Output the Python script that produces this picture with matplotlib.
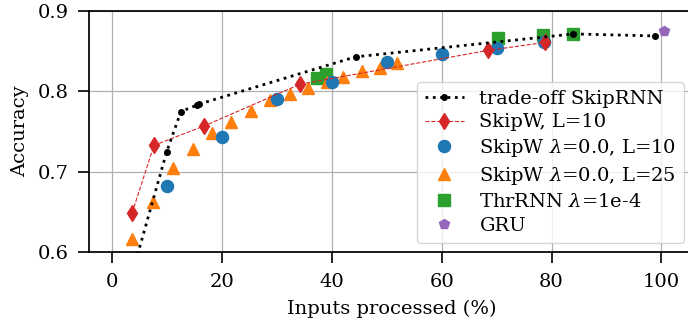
import numpy as np
import matplotlib
matplotlib.use("Agg")
import matplotlib.pyplot as plt

plt.rcParams['font.family'] = 'serif'
plt.rcParams['font.serif'] = ['DejaVu Serif']
plt.rcParams['mathtext.fontset'] = 'dejavuserif'
plt.rcParams['font.size'] = 14

# trade-off curve of SkipRNN
tradeoff_x = [4.6, 9.9, 12.5, 15.4, 15.7, 44.3, 84.0, 98.9]
tradeoff_y = [0.597, 0.725, 0.775, 0.783, 0.784, 0.843, 0.8715, 0.869]

# SkipW, L=10
skipw_x = [3.6, 7.6, 16.7, 34.2, 68.4, 78.9]
skipw_y = [0.649, 0.733, 0.757, 0.809, 0.851, 0.861]

# SkipW lambda=0.0, L=10
skipw10_x = [9.9, 19.9, 30.0, 40.1, 50.0, 60.1, 70.0, 78.7]
skipw10_y = [0.682, 0.743, 0.790, 0.812, 0.836, 0.847, 0.854, 0.861]

# SkipW lambda=0.0, L=25
skipw25_x = [3.5, 7.35, 11.1, 14.65, 18.2, 21.6, 25.2, 28.7, 32.3, 35.7, 39.1, 42.1, 45.4, 48.7, 51.8]
skipw25_y = [0.616, 0.662, 0.705, 0.729, 0.748, 0.762, 0.776, 0.789, 0.797, 0.804, 0.812, 0.818, 0.825, 0.829, 0.835]

# ThrRNN lambda=1e-4
thr_x = [37.3, 39.0, 70.2, 78.4, 83.9]
thr_y = [0.817, 0.822, 0.867, 0.870, 0.871]

# GRU
gru_x = [100.4]
gru_y = [0.875]

fig = plt.figure(figsize=(6.88, 3.2), dpi=100)
ax = fig.add_axes([0.1298, 0.2116, 0.879, 0.754])
ax.set_axisbelow(True)
ax.grid(True, color='#b0b0b0', linewidth=0.9)

h_thr, = ax.plot(thr_x, thr_y, 's', color='tab:green', markersize=8.5, linestyle='none',
                 label=r'ThrRNN $\lambda$=1e-4', zorder=2)
h25, = ax.plot(skipw25_x, skipw25_y, '^', color='tab:orange', markersize=8.5, linestyle='none',
               label=r'SkipW $\lambda$=0.0, L=25', zorder=3)
h10, = ax.plot(skipw10_x, skipw10_y, 'o', color='tab:blue', markersize=8.7, linestyle='none',
               label=r'SkipW $\lambda$=0.0, L=10', zorder=4)
h_sw, = ax.plot(skipw_x, skipw_y, 'd--', color='tab:red', markersize=8, linewidth=0.8,
                label='SkipW, L=10', zorder=5)
h_tr, = ax.plot(tradeoff_x, tradeoff_y, '.:', color='black', markersize=8, linewidth=2,
                label='trade-off SkipRNN', zorder=6)
h_gru, = ax.plot(gru_x, gru_y, 'p', color='tab:purple', markersize=7, linestyle='none',
                 label='GRU', zorder=6)

ax.set_xlim(-4.19, 105.96)
ax.set_ylim(0.6, 0.9)
ax.set_xticks([0, 20, 40, 60, 80, 100])
ax.set_yticks([0.6, 0.7, 0.8, 0.9])
ax.tick_params(length=8, width=1.2, pad=7)
for s in ax.spines.values():
    s.set_linewidth(1.25)
ax.set_xlabel('Inputs processed (%)', labelpad=6)
ax.set_ylabel('Accuracy', labelpad=6)

ax.legend(handles=[h_tr, h_sw, h10, h25, h_thr, h_gru], loc='lower right',
          labelspacing=0.3)

fig.savefig('out.png', dpi=100)
